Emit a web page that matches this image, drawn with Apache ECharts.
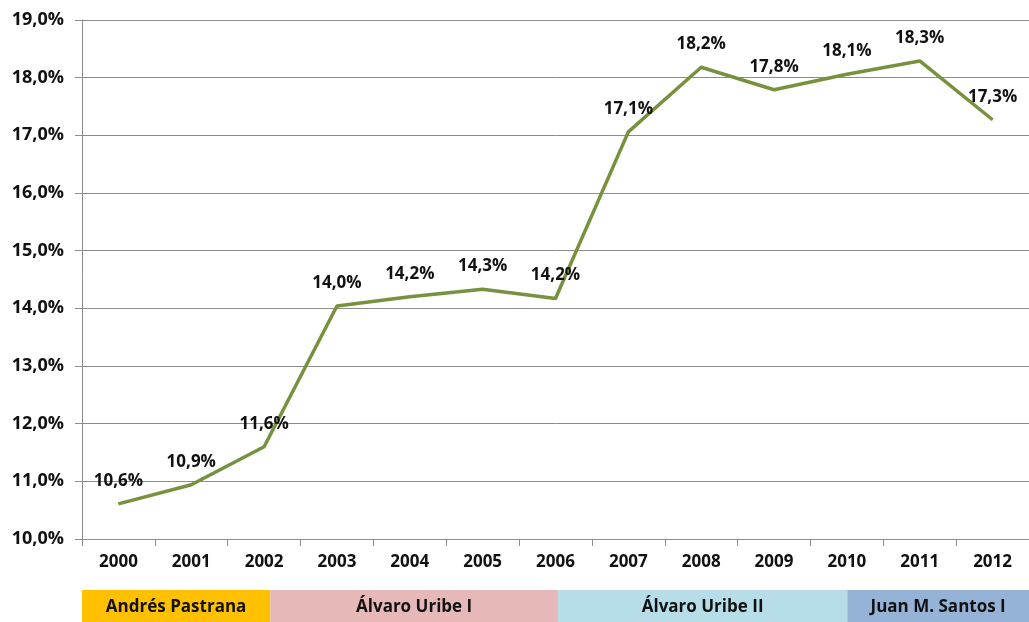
<!DOCTYPE html>
<html>
<head>
<meta charset="utf-8">
<script src="https://cdn.jsdelivr.net/npm/echarts@6/dist/echarts.min.js"></script>
<style>
html,body{margin:0;padding:0;background:#ffffff;}
#chart{width:1029px;height:622px;}
</style>
</head>
<body>
<div id="chart"></div>
<script>
var years = ['2000','2001','2002','2003','2004','2005','2006','2007','2008','2009','2010','2011','2012'];
var values = [10.61, 10.94, 11.6, 14.04, 14.2, 14.33, 14.17, 17.06, 18.18, 17.79, 18.06, 18.29, 17.27];
var yTicks = [10, 11, 12, 13, 14, 15, 16, 17, 18, 19];
// Presidential terms: label, start/end as category positions (index units), colour
var termNames = ['Andrés Pastrana', 'Álvaro Uribe I', 'Álvaro Uribe II', 'Juan M. Santos I'];
var termStart = [-0.5, 2.07, 6.0, 9.95];
var termEnd = [2.07, 6.0, 9.95, 12.5];
var termColors = ['#FFC000', '#E6B9B8', '#B7DEE8', '#95B3D7'];

var FONT = '"Open Sans"';
var gridLeft = 82, gridTop = 20, gridWidth = 952, gridBottom = 83;

function fmt(v){ return v.toFixed(1).replace('.', ',') + '%'; }

var chart = echarts.init(document.getElementById('chart'));

function catToPx(c){
  var w = gridWidth / years.length;
  return gridLeft + (c + 0.5) * w;
}

var graphics = [];
for (var i = 0; i < termNames.length; i++) {
  var x0 = catToPx(termStart[i]);
  var x1 = catToPx(termEnd[i]);
  graphics.push({
    type: 'rect',
    shape: {x: x0, y: 590, width: x1 - x0, height: 32},
    style: {fill: termColors[i]},
    silent: true
  });
  graphics.push({
    type: 'text',
    x: (x0 + Math.min(x1, 1029)) / 2,
    y: 607,
    style: {
      text: termNames[i], fill: '#111', font: 'bold 17px ' + FONT,
      textAlign: 'center', textVerticalAlign: 'middle'
    },
    silent: true
  });
}

chart.setOption({
  backgroundColor: '#ffffff',
  animation: false,
  grid: {left: gridLeft, top: gridTop, width: gridWidth, bottom: gridBottom, containLabel: false},
  xAxis: {
    type: 'category',
    data: years,
    boundaryGap: true,
    axisLine: {show: true, lineStyle: {color: '#8c8c8c', width: 1}},
    axisTick: {show: true, length: 7, lineStyle: {color: '#8c8c8c'}},
    axisLabel: {color: '#111', fontFamily: FONT, fontWeight: 'bold', fontSize: 17, margin: 15}
  },
  yAxis: {
    type: 'value',
    min: yTicks[0],
    max: yTicks[yTicks.length - 1],
    interval: 1,
    axisLine: {show: true, lineStyle: {color: '#8c8c8c', width: 1}},
    axisTick: {show: true, length: 7, lineStyle: {color: '#8c8c8c'}},
    splitLine: {show: true, lineStyle: {color: '#8c8c8c', width: 1}},
    axisLabel: {
      color: '#111', fontFamily: FONT, fontWeight: 'bold', fontSize: 18, margin: 18,
      formatter: function(v){ return fmt(v); }
    }
  },
  series: [{
    type: 'line',
    data: values,
    symbol: 'circle',
    symbolSize: 1,
    showSymbol: true,
    itemStyle: {color: '#78913E'},
    lineStyle: {color: '#78913E', width: 3.5},
    label: {
      show: true, position: 'top', distance: 14,
      color: '#111', fontFamily: FONT, fontWeight: 'bold', fontSize: 17,
      formatter: function(p){ return fmt(p.value); }
    },
    labelLayout: {hideOverlap: false}
  }],
  graphic: graphics
});
</script>
</body>
</html>
